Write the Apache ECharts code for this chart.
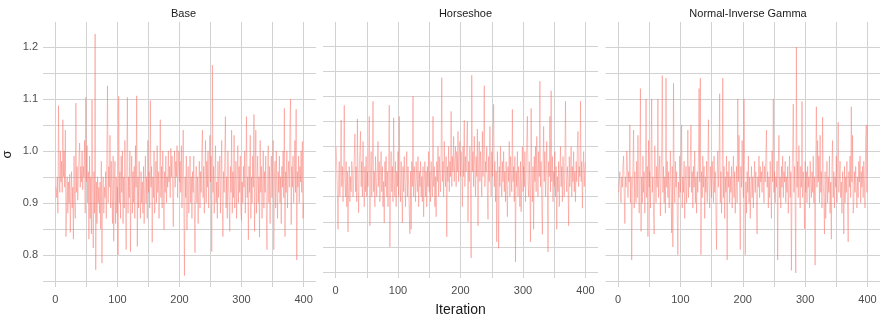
<!DOCTYPE html>
<html>
<head>
<meta charset="utf-8">
<script src="https://cdn.jsdelivr.net/npm/echarts@6/dist/echarts.min.js"></script>
<style>
  html, body { margin: 0; padding: 0; background: #ffffff; }
  #chart { width: 880px; height: 322px; }
</style>
</head>
<body>
<div id="chart"></div>
<script>
// Posterior draws of sigma for each prior, one value per iteration (1..400)
const priorNames = ['Base', 'Horseshoe', 'Normal-Inverse Gamma'];

const sigmaBase = [
  0.93, 0.91, 0.95, 0.88, 1.087, 0.96, 0.92, 1.00, 0.94, 0.98,
  0.92, 1.06, 0.95, 1.00, 0.93, 1.04, 0.835, 0.90, 0.95, 0.88,
  0.94, 0.90, 0.955, 0.843, 0.92, 0.96, 0.89, 0.93, 0.83, 0.99,
  0.91, 0.87, 1.092, 0.92, 0.97, 0.905, 0.95, 0.99, 1.015, 0.93,
  0.97, 0.94, 1.00, 0.925, 0.97, 0.95, 1.02, 0.88, 1.103, 0.94,
  1.01, 0.90, 0.96, 0.83, 0.99, 0.87, 0.95, 0.84, 1.098, 0.92,
  0.813, 0.96, 0.88, 1.225, 0.771, 0.94, 0.86, 0.95, 0.90, 0.93,
  0.88, 0.94, 0.85, 0.98, 0.784, 0.92, 0.95, 0.88, 0.93, 0.91,
  0.96, 0.87, 1.01, 1.125, 0.90, 0.97, 0.93, 1.03, 0.89, 0.98,
  0.92, 0.86, 0.99, 0.826, 0.94, 0.98, 0.86, 0.95, 0.88, 0.93,
  0.80, 1.105, 0.90, 0.96, 0.87, 0.99, 0.92, 1.00, 0.86, 0.95,
  0.89, 1.02, 0.93, 0.81, 0.97, 1.103, 0.88, 0.95, 0.91, 1.00,
  0.806, 0.94, 0.99, 0.88, 0.96, 0.90, 0.97, 0.87, 1.01, 0.93,
  1.106, 0.816, 0.95, 0.89, 0.98, 0.92, 0.87, 0.96, 0.90, 0.94,
  0.88, 0.97, 0.86, 0.93, 0.99, 0.90, 0.95, 0.87, 1.02, 0.92,
  0.96, 0.89, 1.097, 0.93, 0.97, 0.824, 0.95, 0.91, 1.00, 0.88,
  0.94, 0.98, 0.90, 1.01, 0.92, 0.96, 0.87, 0.93, 1.06, 0.91,
  0.97, 0.89, 1.00, 0.93, 0.848, 0.96, 0.92, 0.99, 0.90, 0.95,
  0.93, 1.00, 0.94, 0.97, 0.91, 1.005, 0.95, 0.99, 0.92, 0.854,
  0.96, 1.00, 0.93, 0.98, 0.95, 1.01, 0.91, 0.97, 1.00, 0.94,
  0.98, 0.92, 1.01, 0.89, 0.96, 1.04, 0.90, 0.76, 0.95, 0.91,
  0.99, 0.848, 0.94, 0.97, 0.88, 0.93, 0.99, 0.90, 0.95, 0.87,
  0.96, 0.92, 0.99, 0.88, 0.804, 0.94, 0.97, 0.90, 0.95, 0.86,
  0.93, 0.98, 0.89, 0.96, 0.92, 1.00, 1.04, 0.91, 0.97, 0.88,
  0.95, 1.02, 0.90, 0.98, 0.93, 1.00, 0.89, 0.97, 1.03, 0.94,
  0.99, 0.806, 1.165, 0.92, 0.97, 0.88, 0.95, 1.01, 0.90, 0.94,
  0.87, 0.98, 0.91, 0.95, 0.99, 0.88, 0.94, 1.02, 0.90, 0.835,
  0.96, 0.92, 0.99, 1.066, 0.89, 0.95, 0.87, 1.00, 0.93, 0.90,
  0.845, 0.97, 0.92, 1.04, 0.88, 0.96, 0.91, 1.03, 0.89, 0.94,
  0.98, 0.87, 0.95, 1.01, 0.90, 0.97, 0.92, 0.99, 0.88, 0.866,
  0.94, 0.90, 0.97, 0.93, 1.00, 0.88, 0.96, 1.066, 0.91, 0.95,
  0.829, 0.97, 0.92, 1.03, 0.87, 0.95, 0.90, 0.99, 0.93, 1.07,
  0.845, 0.96, 1.04, 0.88, 0.94, 0.99, 0.90, 0.95, 0.834, 1.02,
  0.92, 0.97, 0.87, 0.94, 1.00, 0.89, 0.96, 0.92, 0.99, 0.88,
  0.81, 0.95, 1.01, 0.90, 0.97, 0.86, 0.94, 0.99, 0.91, 0.96,
  1.02, 0.81, 0.95, 0.98, 0.89, 1.00, 0.93, 0.87, 0.96, 0.92,
  0.99, 0.90, 0.95, 0.86, 0.97, 0.93, 1.00, 0.91, 1.082, 0.835,
  0.96, 0.92, 1.00, 0.89, 0.95, 0.98, 0.93, 1.05, 1.10, 0.858,
  0.97, 0.93, 0.99, 0.90, 0.95, 1.02, 0.92, 1.08, 0.79, 0.96,
  0.93, 0.99, 0.90, 0.97, 0.94, 1.00, 0.92, 1.018, 0.87, 0.90
];

const sigmaHorseshoe = [
  1.00, 0.96, 0.91, 0.835, 0.93, 0.97, 0.90, 0.95, 1.053, 0.92,
  0.96, 0.89, 0.94, 1.082, 0.93, 0.90, 0.97, 0.88, 0.95, 0.83,
  0.92, 0.96, 0.89, 0.94, 0.91, 0.97, 0.95, 0.90, 0.93, 0.98,
  1.025, 0.91, 0.96, 0.89, 1.055, 0.93, 0.868, 0.95, 0.99, 1.03,
  0.92, 0.97, 0.90, 1.01, 0.94, 0.88, 0.96, 0.91, 0.98, 0.90,
  0.95, 0.92, 0.97, 1.06, 0.842, 0.94, 0.99, 0.90, 0.96, 1.09,
  0.91, 0.95, 0.88, 0.98, 0.93, 0.90, 0.96, 1.01, 0.92, 0.97,
  0.89, 0.95, 0.99, 0.91, 0.96, 0.88, 0.93, 0.848, 0.97, 0.92,
  0.98, 0.90, 0.95, 0.88, 0.96, 1.082, 0.80, 0.94, 0.99, 0.91,
  0.96, 0.89, 1.057, 0.93, 0.90, 0.97, 0.88, 0.95, 0.92, 0.99,
  0.90, 1.06, 0.94, 0.89, 0.97, 0.92, 0.848, 0.96, 0.91, 0.98,
  0.93, 0.88, 0.95, 0.99, 0.90, 0.96, 0.92, 0.87, 0.826, 0.95,
  0.835, 0.97, 0.92, 1.10, 0.90, 0.96, 0.93, 0.89, 0.97, 0.94,
  0.91, 0.98, 0.88, 0.95, 0.92, 0.97, 0.90, 0.94, 0.89, 0.96,
  0.86, 0.93, 0.97, 0.90, 0.95, 0.88, 0.96, 0.92, 0.99, 0.91,
  0.95, 0.89, 0.97, 0.93, 0.90, 1.06, 0.92, 0.96, 0.88, 0.94,
  0.86, 0.97, 0.93, 1.00, 0.90, 0.98, 0.94, 0.91, 0.99, 1.137,
  0.93, 0.97, 0.90, 1.01, 0.95, 0.92, 0.98, 0.82, 0.96, 0.93,
  1.00, 0.91, 0.97, 0.94, 1.07, 0.92, 0.98, 0.95, 1.02, 0.93,
  0.97, 1.00, 0.92, 0.99, 0.95, 1.03, 0.93, 0.98, 1.01, 0.94,
  0.99, 0.96, 0.88, 1.00, 0.94, 1.052, 0.92, 0.98, 0.95, 1.01,
  1.05, 0.85, 0.97, 0.93, 1.00, 0.91, 0.778, 1.142, 0.95, 0.99,
  0.92, 1.02, 0.96, 0.90, 0.98, 0.94, 1.035, 0.842, 0.97, 1.01,
  0.93, 0.99, 0.95, 0.90, 1.03, 0.94, 0.98, 1.121, 0.92, 0.97,
  0.95, 1.00, 0.91, 0.855, 0.98, 0.93, 1.04, 0.96, 0.90, 0.99,
  0.94, 1.02, 1.084, 0.92, 0.97, 0.89, 0.95, 0.81, 0.99, 0.93,
  0.797, 0.96, 0.92, 1.00, 0.94, 0.90, 0.97, 0.93, 0.99, 0.91,
  0.95, 0.89, 0.97, 0.92, 0.86, 0.96, 0.93, 1.01, 0.90, 0.98,
  0.94, 0.91, 1.074, 0.93, 0.96, 0.89, 0.98, 0.77, 0.95, 0.92,
  0.99, 0.90, 0.96, 0.93, 0.88, 0.97, 0.87, 0.94, 1.00, 0.91,
  0.96, 0.92, 0.99, 0.89, 0.95, 1.01, 1.06, 0.93, 0.90, 0.97,
  0.92, 0.81, 1.076, 0.94, 0.89, 0.96, 0.835, 0.98, 0.93, 1.00,
  0.91, 1.02, 0.95, 0.90, 0.99, 0.94, 1.13, 0.92, 0.97, 0.88,
  0.825, 0.96, 1.04, 0.93, 0.99, 0.90, 0.95, 1.01, 0.92, 0.79,
  0.97, 0.94, 1.06, 0.91, 1.111, 0.93, 0.98, 0.89, 0.95, 0.92,
  0.99, 0.90, 0.96, 0.835, 0.94, 0.91, 0.97, 0.88, 0.95, 1.00,
  0.92, 0.96, 0.89, 0.98, 0.93, 0.90, 0.97, 1.09, 0.94, 0.91,
  0.96, 0.93, 0.842, 0.98, 0.92, 0.95, 1.00, 0.90, 0.96, 0.93,
  0.99, 0.91, 0.95, 0.89, 0.97, 0.93, 1.00, 1.03, 0.92, 0.96,
  0.94, 1.09, 0.93, 0.97, 0.877, 0.95, 0.99, 0.92, 0.96, 0.97
];

const sigmaNIG = [
  0.92, 0.94, 0.96, 0.91, 0.90, 0.95, 0.93, 0.97, 0.99, 0.92,
  0.86, 0.95, 0.93, 1.00, 0.98, 0.91, 0.96, 0.94, 1.05, 0.90,
  0.95, 0.79, 0.93, 0.97, 1.04, 0.89, 0.96, 0.92, 0.90, 0.98,
  0.91, 1.03, 0.94, 0.88, 0.97, 1.12, 0.845, 0.95, 0.90, 0.99,
  0.92, 0.96, 0.88, 0.94, 1.10, 0.91, 0.97, 0.835, 1.02, 0.93,
  0.96, 0.89, 0.98, 1.10, 0.92, 0.95, 0.88, 0.84, 1.01, 0.94,
  0.90, 0.97, 0.93, 1.10, 0.91, 0.96, 0.99, 0.875, 0.94, 1.00,
  1.145, 0.92, 0.97, 0.90, 0.95, 0.88, 1.14, 0.93, 0.98, 0.91,
  0.96, 0.89, 0.94, 1.00, 0.92, 0.842, 0.97, 0.815, 1.13, 0.95,
  0.90, 0.98, 0.93, 0.96, 0.88, 0.80, 0.94, 0.91, 0.99, 0.92,
  0.96, 1.05, 0.89, 0.95, 0.92, 0.98, 0.87, 0.94, 0.97, 0.90,
  0.95, 1.04, 0.91, 0.97, 0.93, 0.99, 1.05, 0.92, 0.96, 0.89,
  0.97, 0.93, 1.00, 0.90, 0.95, 0.88, 0.96, 0.92, 0.99, 1.12,
  0.94, 1.14, 0.80, 0.96, 0.91, 0.99, 0.93, 0.97, 0.87, 0.95,
  0.92, 0.98, 0.90, 0.96, 1.06, 0.93, 0.89, 0.97, 0.94, 0.91,
  0.98, 0.95, 0.90, 0.99, 0.92, 0.96, 0.88, 0.81, 0.95, 1.00,
  0.93, 0.97, 1.11, 0.90, 0.96, 0.88, 0.94, 1.14, 0.91, 0.97,
  0.87, 0.95, 0.92, 0.99, 0.79, 0.96, 0.93, 0.98, 0.90, 0.95,
  0.92, 0.97, 0.89, 0.94, 0.99, 0.91, 0.96, 0.88, 0.93, 0.97,
  0.90, 1.10, 0.94, 1.03, 0.92, 0.81, 0.97, 0.93, 1.02, 0.95,
  0.91, 1.10, 0.97, 0.80, 0.94, 0.88, 0.96, 0.92, 0.99, 0.90,
  0.95, 0.87, 0.93, 0.97, 0.91, 0.95, 0.89, 0.94, 0.98, 0.92,
  0.96, 0.90, 0.84, 0.95, 0.93, 0.99, 0.91, 0.97, 0.94, 0.96,
  0.92, 0.98, 0.95, 0.90, 0.97, 0.94, 0.99, 1.04, 0.93, 0.96,
  0.89, 0.95, 0.91, 0.98, 0.93, 0.87, 1.00, 0.94, 1.10, 0.92,
  0.96, 0.90, 0.95, 0.93, 0.98, 0.79, 0.96, 1.03, 0.91, 0.95,
  0.89, 0.97, 0.93, 0.99, 0.91, 0.96, 0.94, 0.98, 0.90, 0.95,
  0.92, 0.97, 0.88, 0.94, 0.99, 0.91, 0.96, 0.77, 0.95, 1.00,
  1.09, 0.92, 0.97, 0.90, 0.765, 1.20, 0.93, 0.98, 0.91, 1.01,
  0.95, 0.89, 0.97, 0.93, 1.095, 0.91, 0.96, 0.94, 0.85, 0.98,
  0.92, 0.96, 0.90, 0.97, 0.93, 0.95, 0.89, 0.98, 0.94, 0.91,
  0.96, 0.92, 0.99, 0.90, 0.95, 0.78, 0.97, 1.085, 0.93, 1.02,
  0.94, 0.99, 0.90, 1.03, 0.92, 0.96, 0.89, 1.065, 0.94, 0.91,
  0.84, 0.96, 0.87, 0.93, 0.98, 0.90, 0.95, 0.92, 0.99, 0.88,
  0.94, 0.83, 0.97, 1.02, 0.91, 0.96, 0.89, 0.95, 0.93, 0.99,
  0.90, 0.97, 1.055, 0.92, 0.95, 0.98, 0.91, 0.94, 0.88, 0.96,
  0.93, 0.84, 0.97, 0.90, 0.95, 0.92, 0.98, 0.89, 0.825, 0.96,
  0.93, 0.99, 0.91, 1.085, 0.94, 1.03, 0.88, 0.90, 0.96, 0.92,
  0.97, 0.93, 0.89, 0.95, 0.91, 0.98, 0.94, 0.99, 0.90, 0.96,
  0.93, 0.97, 0.91, 0.98, 0.94, 0.89, 1.02, 1.05, 0.92, 1.05
];

const sigmaSeries = [sigmaBase, sigmaHorseshoe, sigmaNIG];

// Axis breaks
const xLabelValues = [0, 100, 200, 300, 400];
const xGridValues = [0, 50, 100, 150, 200, 250, 300, 350, 400];
const yLabelValues = [0.8, 0.9, 1.0, 1.1, 1.2];
const yGridValues = [0.75, 0.8, 0.85, 0.9, 0.95, 1.0, 1.05, 1.1, 1.15, 1.2];

const FONT = '"Liberation Sans", Arial, Helvetica, sans-serif';
const GRID_COLOR = '#d2d2d2';
const LINE_COLOR = '#F8766D';

const panelLeft = [41, 323, 605.5];
const panelWidth = 275;
const panelTop = 22;
const panelHeight = 265;

const chart = echarts.init(document.getElementById('chart'), null, { renderer: 'canvas' });

const grids = [], xAxes = [], yAxes = [], series = [], titles = [];

priorNames.forEach((name, k) => {
  grids.push({ left: panelLeft[k], top: panelTop, width: panelWidth, height: panelHeight, containLabel: false });

  titles.push({
    text: name,
    left: panelLeft[k] + panelWidth / 2,
    top: 3,
    textAlign: 'center',
    textStyle: { fontFamily: FONT, fontSize: 11, fontWeight: 'normal', color: '#1a1a1a' }
  });

  xAxes.push({
    type: 'value',
    gridIndex: k,
    min: -20,
    max: 420,
    axisLine: { show: false },
    axisTick: { show: false, customValues: xGridValues },
    axisLabel: {
      customValues: xLabelValues,
      color: '#4d4d4d', fontSize: 11, fontFamily: FONT, margin: 7
    },
    splitLine: { show: true, lineStyle: { color: GRID_COLOR, width: 1 } },
    name: k === 1 ? 'Iteration' : '',
    nameLocation: 'middle',
    nameGap: 25,
    nameTextStyle: { fontFamily: FONT, fontSize: 14, color: '#1a1a1a', verticalAlign: 'top' }
  });

  yAxes.push({
    type: 'value',
    gridIndex: k,
    min: 0.738,
    max: 1.248,
    axisLine: { show: false },
    axisTick: { show: false, customValues: yGridValues },
    axisLabel: {
      show: k === 0,
      customValues: yLabelValues,
      formatter: v => v.toFixed(1),
      color: '#4d4d4d', fontSize: 11, fontFamily: FONT, margin: 5
    },
    splitLine: { show: true, lineStyle: { color: GRID_COLOR, width: 1 } },
    name: k === 0 ? 'σ' : '',
    nameLocation: 'middle',
    nameGap: 29,
    nameRotate: 90,
    nameTextStyle: { fontFamily: FONT, fontSize: 13, color: '#1a1a1a' }
  });

  series.push({
    type: 'line',
    xAxisIndex: k,
    yAxisIndex: k,
    data: sigmaSeries[k].map((v, i) => [i + 1, v]),
    showSymbol: false,
    symbol: 'none',
    silent: true,
    lineStyle: { color: LINE_COLOR, width: 0.8, opacity: 0.55 },
    z: 3
  });
});

chart.setOption({
  animation: false,
  backgroundColor: '#ffffff',
  title: titles,
  grid: grids,
  xAxis: xAxes,
  yAxis: yAxes,
  series: series
});
</script>
</body>
</html>
